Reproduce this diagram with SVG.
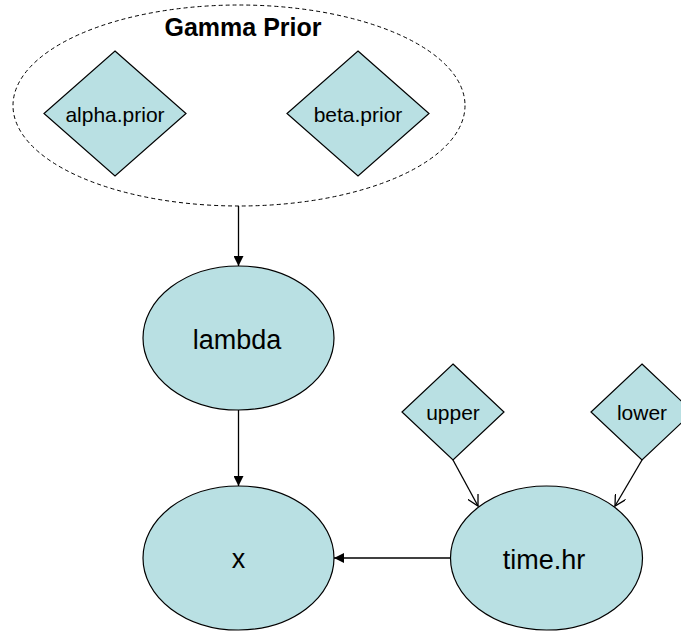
<svg xmlns="http://www.w3.org/2000/svg" width="681" height="631" viewBox="0 0 681 631">
<defs>
<style>
.node{fill:#B9E0E3;stroke:#000;stroke-width:1.2}
.lbl{font-family:"Liberation Sans",Arial,sans-serif;fill:#000;text-anchor:middle}
.big{font-size:27px}
.small{font-size:21px}
.edge{stroke:#000;stroke-width:1.3;fill:none}
</style>
<marker id="tri" viewBox="0 0 10 10" refX="10" refY="5" markerWidth="10" markerHeight="10" markerUnits="userSpaceOnUse" orient="auto">
<path d="M0,0 L10,5 L0,10 Z" fill="#000"/>
</marker>
<marker id="vee" viewBox="0 0 12 12" refX="11" refY="6" markerWidth="12" markerHeight="12" markerUnits="userSpaceOnUse" orient="auto">
<path d="M0,0 L11,6 L0,12" fill="none" stroke="#000" stroke-width="1.3"/>
</marker>
</defs>
<rect width="681" height="631" fill="#fff"/>
<g id="gamma_prior">
<ellipse cx="239" cy="105.5" rx="226" ry="100.5" fill="none" stroke="#000" stroke-width="1" stroke-dasharray="4,3"/>
<text class="lbl" x="243" y="36" font-size="25" font-weight="bold">Gamma Prior</text>
</g>
<g id="alpha_prior">
<polygon class="node" points="115,51 186,113.5 115,176 44,113.5"/>
<text class="lbl small" x="115" y="121.5">alpha.prior</text>
</g>
<g id="beta_prior">
<polygon class="node" points="358,51 429,113.5 358,176 287,113.5"/>
<text class="lbl small" x="358" y="121.5">beta.prior</text>
</g>
<g id="lambda">
<ellipse class="node" cx="238.5" cy="338" rx="95.5" ry="72"/>
<text class="lbl big" x="237" y="349">lambda</text>
</g>
<g id="x">
<ellipse class="node" cx="238.5" cy="558" rx="95.5" ry="72"/>
<text class="lbl big" x="238.5" y="568">x</text>
</g>
<g id="upper">
<polygon class="node" points="453,364 504,412 453,460 402,412"/>
<text class="lbl small" x="453" y="420">upper</text>
</g>
<g id="lower">
<polygon class="node" points="642,364 693,412 642,460 591,412"/>
<text class="lbl small" x="642" y="420">lower</text>
</g>
<g id="time_hr">
<ellipse class="node" cx="546.5" cy="558" rx="96" ry="72"/>
<text class="lbl big" x="544" y="569">time.hr</text>
</g>
<g id="connectors">
<line class="edge" x1="238.5" y1="206" x2="238.5" y2="266" marker-end="url(#tri)"/>
<line class="edge" x1="238.5" y1="410" x2="238.5" y2="486" marker-end="url(#tri)"/>
<line class="edge" x1="450.5" y1="558" x2="334" y2="558" marker-end="url(#tri)"/>
<line class="edge" x1="453" y1="460" x2="478" y2="506" marker-end="url(#vee)"/>
<line class="edge" x1="642" y1="460" x2="615" y2="506" marker-end="url(#vee)"/>
</g>
</svg>
